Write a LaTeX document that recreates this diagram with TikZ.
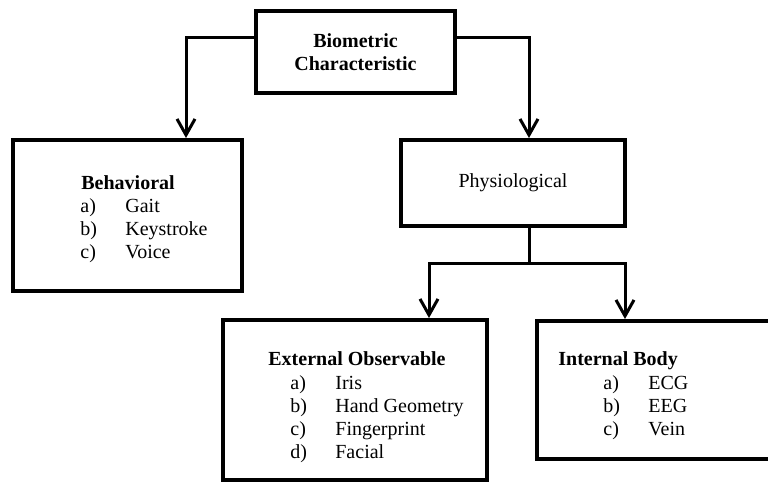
\documentclass[tikz,border=0pt]{standalone}
\usepackage{fontspec}
\setmainfont{Liberation Serif}
\usetikzlibrary{arrows.meta}
\begin{document}
\begin{tikzpicture}[x=0.5pt,y=-0.5pt,
  every node/.style={font=\fontsize{10}{11.5}\selectfont},
  box/.style={draw,line width=2pt,rectangle,inner sep=0pt},
  conn/.style={line width=1.5pt,-{Straight Barb[length=8pt,width=9pt,line width=1.5pt]}},
  plain/.style={line width=1.5pt},
  head/.style={anchor=base west,inner sep=0pt,font=\fontsize{10}{11.5}\selectfont\bfseries},
  items/.style={anchor=base west,inner sep=0pt}]
\useasboundingbox (0,0) rectangle (768,483);
% boxes
\node[box,minimum width=99.5pt,minimum height=41pt,align=center,font=\fontsize{10}{11.5}\selectfont\bfseries] (top) at (355.5,52) {Biometric\\Characteristic};
\node[box,minimum width=114.5pt,minimum height=75.5pt] (beh) at (127.5,215.5) {};
\node[box,minimum width=112pt,minimum height=43pt] (phy) at (513,183) {Physiological};
\node[box,minimum width=132pt,minimum height=80pt] (ext) at (355,400) {};
\node[box,minimum width=119pt,minimum height=69pt] (int) at (656,390) {};
% texts
\node[head] (behh) at (81,189) {Behavioral};
\node[items] (behl) at (80,212) {\begin{tabular}[t]{@{}p{22.5pt}@{}l@{}}a) & Gait\\ b) & Keystroke\\ c) & Voice\end{tabular}};
\node[head] (exth) at (268,365) {External Observable};
\node[items] (extl) at (290,389) {\begin{tabular}[t]{@{}p{22.5pt}@{}l@{}}a) & Iris\\ b) & Hand Geometry\\ c) & Fingerprint\\ d) & Facial\end{tabular}};
\node[head] (inth) at (558,365) {Internal Body};
\node[items] (intl) at (603,389) {\begin{tabular}[t]{@{}p{22.5pt}@{}l@{}}a) & ECG\\ b) & EEG\\ c) & Vein\end{tabular}};
% connectors
\draw[conn] (top.west |- 0,37) -| (beh.north -| 186,0);
\draw[conn] (top.east |- 0,37) -| (phy.north -| 529,0);
\coordinate (j) at (529,263);
\draw[plain] (phy.south -| j) -- (j);
\draw[conn] (j) -| (ext.north -| 429,0);
\draw[conn] (j) -| (int.north -| 625,0);
\end{tikzpicture}
\end{document}
